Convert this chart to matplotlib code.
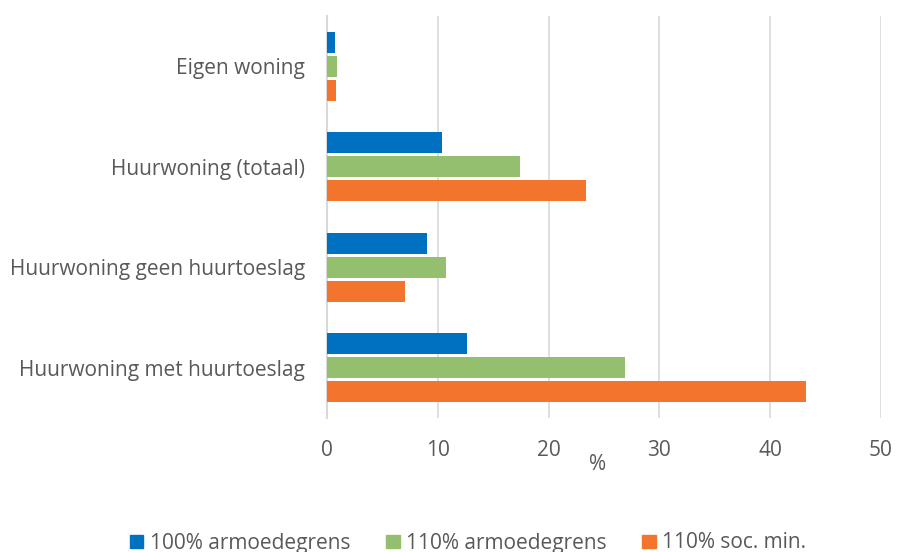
import matplotlib
matplotlib.use("Agg")
import matplotlib.pyplot as plt
import numpy as np
from matplotlib.patches import Patch

categories = ["Eigen woning", "Huurwoning (totaal)", "Huurwoning geen huurtoeslag", "Huurwoning met huurtoeslag"]
series_names = ["100% armoedegrens", "110% armoedegrens", "110% soc. min."]
armoede_100 = [0.7, 10.4, 9.0, 12.6]
armoede_110 = [0.9, 17.4, 10.7, 26.9]
socmin_110 = [0.8, 23.4, 7.0, 43.2]
colors = ["#0070C0", "#93BF6E", "#F3742D"]
xticks = [0, 10, 20, 30, 40, 50]

plt.rcParams['font.family'] = ['Open Sans', 'DejaVu Sans']
txt = "#595959"
fs = 15.0

fig = plt.figure(figsize=(8.97, 5.52), dpi=100)
ax = fig.add_axes([327/897, 1-418/552, (881-327)/897, (418-16)/552])

y = np.arange(len(categories))
step = 0.238
h = 0.21
for i, (vals, c) in enumerate(zip([armoede_100, armoede_110, socmin_110], colors)):
    ax.barh(y + (i-1)*step, vals, height=h, color=c, zorder=3)

ax.set_ylim(-0.5, len(categories)-0.5)
ax.invert_yaxis()
ax.set_xlim(0, 50)
ax.set_xticks(xticks)
ax.set_yticks(y)
ax.set_yticklabels(categories)
ax.tick_params(axis='both', length=0, labelsize=fs, colors=txt)
ax.tick_params(axis='x', pad=16)
ax.tick_params(axis='y', pad=16)
ax.grid(axis='x', color="#d9d9d9", linewidth=1.2, zorder=0)
for s in ['top', 'right', 'bottom']:
    ax.spines[s].set_visible(False)
ax.spines['left'].set_color("#d9d9d9")
ax.spines['left'].set_linewidth(1.5)
ax.set_xlabel("%", fontsize=fs, color=txt)
ax.xaxis.set_label_coords((598-327)/554, -(465-418)/402, transform=ax.transAxes)
ax.xaxis.label.set_verticalalignment('center')

handles = [Patch(facecolor=c, edgecolor=c) for c in colors]
fig.legend(handles, series_names, loc='center', bbox_to_anchor=(468/897, 1-543/552), ncol=3,
           frameon=False, fontsize=fs, labelcolor=txt, handlelength=0.66, handleheight=0.6,
           handletextpad=0.31, columnspacing=1.7, borderpad=0, borderaxespad=0)

fig.savefig("out.png", dpi=100)
